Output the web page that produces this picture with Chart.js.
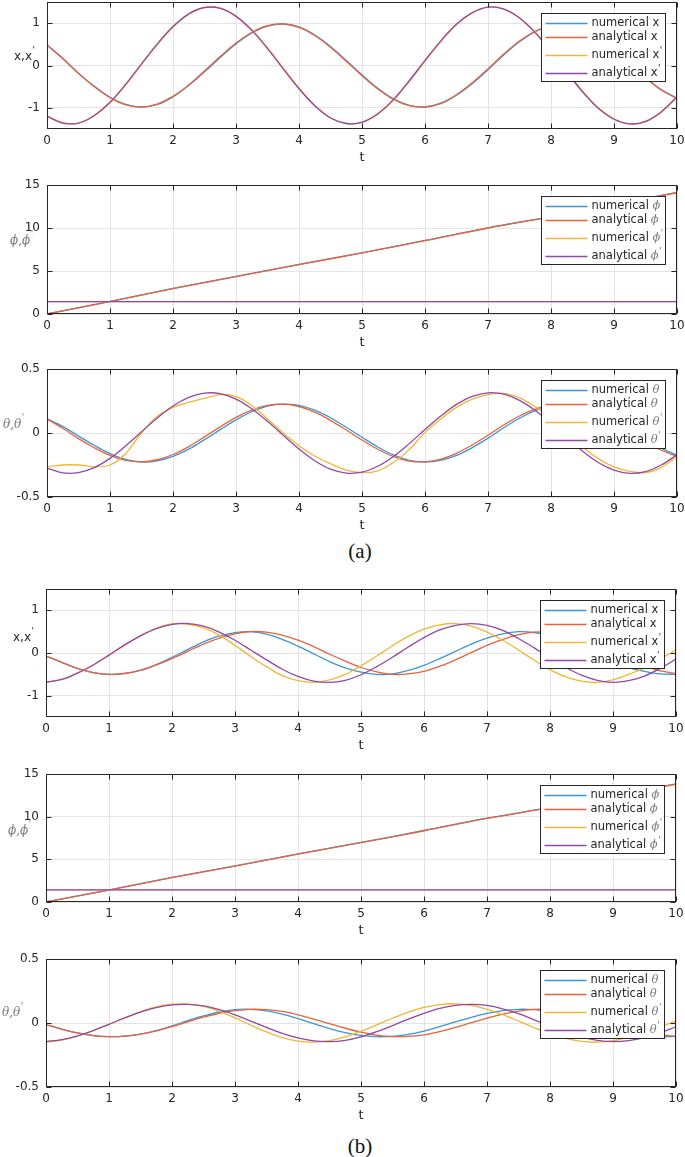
<!DOCTYPE html>
<html>
<head>
<meta charset="utf-8">
<script src="https://cdn.jsdelivr.net/npm/chart.js@4.4.1/dist/chart.umd.min.js"></script>
<style>
  body { margin:0; background:#fff; }
  #wrap { position:relative; width:685px; height:1157px; overflow:hidden; background:#fff; }
  #wrap canvas { position:absolute; left:0; }
  .cap { position:absolute; left:330px; width:60px; text-align:center; font-family:'Liberation Serif','DejaVu Serif',serif; font-size:21px; line-height:22px; color:#111; }
</style>
</head>
<body>
<div id="wrap">
  <canvas id="a1"></canvas>
  <canvas id="a2"></canvas>
  <canvas id="a3"></canvas>
  <div class="cap" style="top:540px">(a)</div>
  <canvas id="b1"></canvas>
  <canvas id="b2"></canvas>
  <canvas id="b3"></canvas>
  <div class="cap" style="top:1135px">(b)</div>
</div>
<script>
// time axis (t = 0..10, step 0.25) and coarse axis for the phi plots
const T = [0,0.25,0.5,0.75,1,1.25,1.5,1.75,2,2.25,2.5,2.75,3,3.25,3.5,3.75,4,4.25,4.5,4.75,5,5.25,5.5,5.75,6,6.25,6.5,6.75,7,7.25,7.5,7.75,8,8.25,8.5,8.75,9,9.25,9.5,9.75,10];
const T_PHI = [0,1,2,3,4,5,6,7,8,9,10];

// tick labels
const X_TICKS = [0,1,2,3,4,5,6,7,8,9,10];
const YT_X = [-1,0,1];
const YT_PHI = [0,5,10,15];
const YT_TH = [-0.5,0,0.5];

// legend / axis texts
const LEG_X = ["numerical x","analytical x","numerical x'","analytical x'"];
const LEG_PHI = ["numerical ϕ","analytical ϕ","numerical ϕ'","analytical ϕ'"];
const LEG_TH = ["numerical θ","analytical θ","numerical θ'","analytical θ'"];
const YLAB_X = "x,x'";
const YLAB_PHI = "ϕ,ϕ'";
const YLAB_TH = "θ,θ'";

// ---- case (a) ----
const A_X_NUM = [0.49,0.17,-0.18,-0.49,-0.75,-0.92,-0.98,-0.92,-0.74,-0.47,-0.15,0.19,0.51,0.77,0.93,0.98,0.91,0.72,0.45,0.12,-0.22,-0.54,-0.79,-0.94,-0.98,-0.90,-0.70,-0.43,-0.10,0.25,0.56,0.80,0.94,0.97,0.89,0.69,0.40,0.07,-0.27,-0.57,-0.77];
const A_X_ANA = [0.48,0.16,-0.19,-0.50,-0.76,-0.93,-0.98,-0.91,-0.73,-0.46,-0.13,0.21,0.53,0.78,0.94,0.98,0.90,0.71,0.43,0.10,-0.24,-0.55,-0.80,-0.95,-0.98,-0.89,-0.69,-0.41,-0.08,0.27,0.58,0.81,0.95,0.97,0.88,0.67,0.38,0.05,-0.29,-0.58,-0.78];
const A_XD_NUM = [-1.19,-1.35,-1.36,-1.19,-0.88,-0.46,0.02,0.49,0.90,1.21,1.37,1.36,1.17,0.85,0.42,-0.06,-0.53,-0.94,-1.23,-1.37,-1.35,-1.15,-0.82,-0.38,0.10,0.56,0.96,1.24,1.38,1.34,1.13,0.79,0.35,-0.14,-0.60,-1.00,-1.26,-1.38,-1.33,-1.11,-0.76];
const A_XD_ANA = [-1.20,-1.36,-1.36,-1.18,-0.87,-0.44,0.04,0.51,0.92,1.22,1.37,1.35,1.16,0.83,0.40,-0.08,-0.55,-0.95,-1.24,-1.37,-1.34,-1.14,-0.80,-0.36,0.12,0.58,0.98,1.25,1.38,1.33,1.12,0.77,0.33,-0.16,-0.62,-1.01,-1.27,-1.38,-1.32,-1.09,-0.74];

const A_PHI_NUM = [0,1.47,2.97,4.37,5.77,7.12,8.55,10.02,11.32,12.72,14.15];
const A_PHI_ANA = [0,1.45,2.95,4.35,5.75,7.10,8.53,10.00,11.30,12.70,14.10];
const A_PHID_NUM = [1.45,1.45,1.45,1.45,1.45,1.45,1.45,1.45,1.45,1.45,1.45];
const A_PHID_ANA = [1.45,1.45,1.45,1.45,1.45,1.45,1.45,1.45,1.45,1.45,1.45];

const A_TH_NUM = [0.110,0.052,-0.024,-0.096,-0.161,-0.207,-0.226,-0.217,-0.183,-0.126,-0.052,0.026,0.103,0.166,0.210,0.226,0.216,0.178,0.119,0.045,-0.033,-0.109,-0.171,-0.213,-0.227,-0.214,-0.175,-0.114,-0.040,0.041,0.115,0.174,0.214,0.226,0.212,0.170,0.107,0.034,-0.046,-0.118,-0.175];
const A_TH_ANA = [0.110,0.037,-0.044,-0.115,-0.175,-0.214,-0.225,-0.209,-0.168,-0.106,-0.030,0.048,0.122,0.179,0.216,0.225,0.207,0.163,0.099,0.023,-0.055,-0.127,-0.184,-0.219,-0.225,-0.205,-0.159,-0.094,-0.018,0.062,0.133,0.186,0.219,0.223,0.202,0.154,0.087,0.012,-0.067,-0.135,-0.182];
const A_THD_NUM = [-0.265,-0.250,-0.250,-0.265,-0.250,-0.160,0.000,0.130,0.200,0.240,0.270,0.300,0.285,0.215,0.110,0.000,-0.100,-0.180,-0.240,-0.290,-0.310,-0.295,-0.230,-0.130,0.005,0.110,0.200,0.265,0.300,0.310,0.275,0.205,0.110,0.000,-0.110,-0.200,-0.265,-0.300,-0.310,-0.270,-0.185];
const A_THD_ANA = [-0.274,-0.311,-0.309,-0.270,-0.198,-0.100,0.009,0.117,0.211,0.278,0.312,0.307,0.265,0.190,0.092,-0.018,-0.125,-0.217,-0.283,-0.313,-0.306,-0.260,-0.183,-0.083,0.027,0.133,0.224,0.286,0.314,0.303,0.255,0.176,0.075,-0.036,-0.141,-0.230,-0.290,-0.315,-0.301,-0.250,-0.170];

// ---- case (b) ----
const B_X_NUM = [-0.07,-0.22,-0.36,-0.46,-0.50,-0.48,-0.40,-0.27,-0.10,0.08,0.26,0.40,0.48,0.50,0.44,0.32,0.16,-0.02,-0.20,-0.35,-0.45,-0.50,-0.49,-0.41,-0.29,-0.13,0.04,0.21,0.35,0.45,0.50,0.48,0.41,0.29,0.14,-0.03,-0.20,-0.34,-0.43,-0.49,-0.50];
const B_X_ANA = [-0.07,-0.22,-0.36,-0.46,-0.50,-0.48,-0.41,-0.28,-0.13,0.04,0.21,0.35,0.45,0.50,0.49,0.42,0.30,0.15,-0.03,-0.19,-0.34,-0.44,-0.50,-0.49,-0.43,-0.31,-0.16,0.01,0.18,0.32,0.43,0.49,0.49,0.44,0.33,0.18,0.01,-0.16,-0.31,-0.42,-0.48];
const B_XD_NUM = [-0.68,-0.62,-0.47,-0.28,-0.05,0.19,0.41,0.58,0.68,0.68,0.59,0.42,0.18,-0.08,-0.32,-0.53,-0.65,-0.69,-0.63,-0.50,-0.30,-0.07,0.17,0.39,0.56,0.66,0.69,0.63,0.49,0.30,0.07,-0.17,-0.39,-0.56,-0.66,-0.69,-0.63,-0.50,-0.35,-0.14,0.07];
const B_XD_ANA = [-0.68,-0.62,-0.47,-0.28,-0.05,0.19,0.40,0.57,0.67,0.69,0.63,0.49,0.30,0.07,-0.16,-0.38,-0.55,-0.66,-0.69,-0.64,-0.51,-0.32,-0.10,0.14,0.36,0.54,0.65,0.69,0.65,0.53,0.34,0.12,-0.12,-0.34,-0.52,-0.64,-0.69,-0.65,-0.54,-0.36,-0.14];

const B_PHI_NUM = [0,1.42,2.88,4.24,5.63,6.98,8.38,9.83,11.08,12.48,13.85];
const B_PHI_ANA = [0,1.40,2.85,4.20,5.60,6.95,8.35,9.80,11.05,12.45,13.80];
const B_PHID_NUM = [1.42,1.42,1.42,1.42,1.42,1.42,1.42,1.42,1.42,1.42,1.42];
const B_PHID_ANA = [1.42,1.42,1.42,1.42,1.42,1.42,1.42,1.42,1.42,1.42,1.42];

const B_TH_NUM = [-0.013,-0.048,-0.078,-0.098,-0.107,-0.103,-0.087,-0.059,-0.022,0.018,0.055,0.086,0.104,0.107,0.095,0.069,0.034,-0.005,-0.043,-0.075,-0.097,-0.107,-0.104,-0.089,-0.063,-0.029,0.008,0.044,0.075,0.097,0.107,0.104,0.089,0.063,0.030,-0.007,-0.043,-0.073,-0.096,-0.107,-0.105];
const B_TH_ANA = [-0.013,-0.048,-0.078,-0.098,-0.107,-0.103,-0.087,-0.061,-0.028,0.009,0.045,0.075,0.097,0.107,0.104,0.090,0.064,0.031,-0.005,-0.041,-0.072,-0.095,-0.106,-0.105,-0.092,-0.067,-0.035,0.002,0.038,0.070,0.093,0.106,0.106,0.094,0.070,0.038,0.002,-0.034,-0.067,-0.091,-0.105];
const B_THD_NUM = [-0.149,-0.134,-0.103,-0.060,-0.011,0.041,0.089,0.126,0.147,0.148,0.129,0.091,0.040,-0.017,-0.070,-0.115,-0.142,-0.150,-0.138,-0.108,-0.065,-0.015,0.037,0.085,0.122,0.144,0.150,0.137,0.107,0.065,0.015,-0.037,-0.084,-0.121,-0.144,-0.150,-0.138,-0.110,-0.075,-0.031,0.016];
const B_THD_ANA = [-0.145,-0.130,-0.100,-0.059,-0.010,0.040,0.085,0.120,0.141,0.145,0.133,0.104,0.064,0.015,-0.035,-0.081,-0.117,-0.140,-0.146,-0.135,-0.108,-0.068,-0.020,0.030,0.076,0.114,0.138,0.146,0.137,0.111,0.073,0.025,-0.025,-0.072,-0.111,-0.136,-0.146,-0.138,-0.114,-0.077,-0.030];

// styles
const COLORS = ['#3a96d6','#e9623a','#f1b634','#9448a6'];
const INK = '#262626';
const GREEK_INK = '#7a7a7a';
const LEG_ROWS = [20.5, 35, 52.5, 71];   // legend row offsets from plot top
const CANVAS_W = 720;                    // wider than the page so the "10" label does not squeeze the plot

// panel layout (plot area in page pixels)
const panels = [
  {id:'a1', top:2,   h:127, left:47, right:677, min:-1.5, max:1.5, yt:YT_X,   t:T,     s:[A_X_NUM,A_X_ANA,A_XD_NUM,A_XD_ANA],         leg:LEG_X,   ylab:YLAB_X,   lx:14, ly:57,    greek:false},
  {id:'a2', top:185, h:129, left:47, right:677, min:0,    max:15,  yt:YT_PHI, t:T_PHI, s:[A_PHI_NUM,A_PHI_ANA,A_PHID_NUM,A_PHID_ANA], leg:LEG_PHI, ylab:YLAB_PHI, lx:10, ly:241,   greek:true},
  {id:'a3', top:369, h:128, left:47, right:677, min:-0.5, max:0.5, yt:YT_TH,  t:T,     s:[A_TH_NUM,A_TH_ANA,A_THD_NUM,A_THD_ANA],     leg:LEG_TH,  ylab:YLAB_TH,  lx:3,  ly:424.5, greek:true},
  {id:'b1', top:589, h:128, left:46, right:676, min:-1.5, max:1.5, yt:YT_X,   t:T,     s:[B_X_NUM,B_X_ANA,B_XD_NUM,B_XD_ANA],         leg:LEG_X,   ylab:YLAB_X,   lx:13, ly:638,   greek:false},
  {id:'b2', top:774, h:128, left:46, right:676, min:0,    max:15,  yt:YT_PHI, t:T_PHI, s:[B_PHI_NUM,B_PHI_ANA,B_PHID_NUM,B_PHID_ANA], leg:LEG_PHI, ylab:YLAB_PHI, lx:8,  ly:831,   greek:true},
  {id:'b3', top:959, h:128, left:46, right:676, min:-0.5, max:0.5, yt:YT_TH,  t:T,     s:[B_TH_NUM,B_TH_ANA,B_THD_NUM,B_THD_ANA],     leg:LEG_TH,  ylab:YLAB_TH,  lx:2,  ly:1013,  greek:true}
];

// writes text with italic greek letters and raised primes
function drawRich(ctx, str, x, y, size, allGreek, primeLift) {
  ctx.textBaseline = 'middle';
  ctx.textAlign = 'left';
  let prevGreek = allGreek;
  for (const ch of str) {
    if (ch === "'") {
      ctx.font = Math.round(size * 0.75) + "px 'DejaVu Sans'";
      ctx.fillStyle = prevGreek ? GREEK_INK : INK;
      ctx.fillText("'", x + 0.5, y - size * primeLift);
      x += ctx.measureText("'").width + 0.5;
    } else {
      const g = allGreek || ch === 'ϕ' || ch === 'θ';
      ctx.font = (g ? 'italic ' : '') + size + 'px ' + (g ? "'DejaVu Serif'" : "'DejaVu Sans'");
      ctx.fillStyle = g ? GREEK_INK : INK;
      ctx.fillText(ch, x, y);
      x += ctx.measureText(ch).width;
      prevGreek = g;
    }
  }
}

// matlab style box with inward ticks, legend and horizontal y label
function decorPlugin(p, canvasTop) {
  return {
    id: 'decor',
    afterDatasetsDraw(chart) {
      const {ctx, chartArea: a, scales: {x, y}} = chart;
      const L = Math.round(a.left) + 0.5, R = Math.round(a.right) - 0.5;
      const Tp = Math.round(a.top) + 0.5, B = Math.round(a.bottom) - 0.5;
      ctx.save();
      ctx.strokeStyle = INK;
      ctx.lineWidth = 1;
      ctx.strokeRect(L, Tp, R - L, B - Tp);
      ctx.beginPath();
      x.ticks.forEach(tk => {
        const px = Math.round(x.getPixelForValue(tk.value)) + 0.5;
        ctx.moveTo(px, B); ctx.lineTo(px, B - 5);
        ctx.moveTo(px, Tp); ctx.lineTo(px, Tp + 5);
      });
      y.ticks.forEach(tk => {
        const py = Math.round(y.getPixelForValue(tk.value)) + 0.5;
        ctx.moveTo(L, py); ctx.lineTo(L + 5, py);
        ctx.moveTo(R, py); ctx.lineTo(R - 5, py);
      });
      ctx.stroke();

      // legend
      const lr = Math.round(a.right) - 11.5, ll = lr - 124;
      const lt = Math.round(a.top) + 11.5, lb = Math.round(a.top) + 79.5;
      ctx.fillStyle = '#fff';
      ctx.fillRect(ll, lt, lr - ll, lb - lt);
      ctx.strokeStyle = INK;
      ctx.strokeRect(ll, lt, lr - ll, lb - lt);
      chart.data.datasets.forEach((ds, i) => {
        const yy = Math.round(a.top + LEG_ROWS[i]) + 0.5;
        ctx.strokeStyle = ds.borderColor;
        ctx.lineWidth = 1.7;
        ctx.beginPath();
        ctx.moveTo(ll + 4, yy); ctx.lineTo(ll + 46, yy);
        ctx.stroke();
        drawRich(ctx, ds.label, ll + 50, yy, 11.5, false, 0.45);
      });

      // y label (horizontal)
      drawRich(ctx, p.ylab, p.lx, p.ly - canvasTop, 12, p.greek, 0.55);
      ctx.restore();
    }
  };
}

panels.forEach(p => {
  const padTop = 16;
  const axisH = 40;
  const canvasTop = p.top - padTop;
  const cv = document.getElementById(p.id);
  cv.width = CANVAS_W;
  cv.height = padTop + p.h + axisH;
  cv.style.top = canvasTop + 'px';

  const datasets = p.s.map((arr, i) => ({
    label: p.leg[i],
    data: p.t.map((t, k) => ({x: t, y: arr[k]})),
    borderColor: COLORS[i],
    borderWidth: 1.3,
    pointRadius: 0,
    tension: 0.35,
    fill: false,
    order: 3 - i
  }));

  new Chart(cv, {
    type: 'line',
    data: {datasets},
    options: {
      responsive: false,
      animation: false,
      devicePixelRatio: 1,
      layout: {padding: {top: padTop, left: 0, right: CANVAS_W - p.right, bottom: 0}},
      plugins: {legend: {display: false}, tooltip: {enabled: false}},
      scales: {
        x: {
          type: 'linear', min: 0, max: 10,
          afterFit: s => { s.height = axisH; },
          afterBuildTicks: s => { s.ticks = X_TICKS.map(v => ({value: v})); },
          grid: {color: '#e4e4e4', drawTicks: false},
          border: {display: false},
          ticks: {padding: 5, color: INK, autoSkip: false, maxRotation: 0,
                  font: {family: 'DejaVu Sans', size: 12}, callback: v => String(v)},
          title: {display: true, text: 't', color: INK,
                  font: {family: 'DejaVu Sans', size: 13}, padding: {top: 0, bottom: 4}}
        },
        y: {
          type: 'linear', min: p.min, max: p.max,
          afterFit: s => { s.width = p.left; },
          afterBuildTicks: s => { s.ticks = p.yt.map(v => ({value: v})); },
          grid: {color: '#e4e4e4', drawTicks: false},
          border: {display: false},
          ticks: {padding: 7, color: INK, font: {family: 'DejaVu Sans', size: 12},
                  callback: v => String(v)}
        }
      }
    },
    plugins: [decorPlugin(p, canvasTop)]
  });
});
</script>
</body>
</html>
